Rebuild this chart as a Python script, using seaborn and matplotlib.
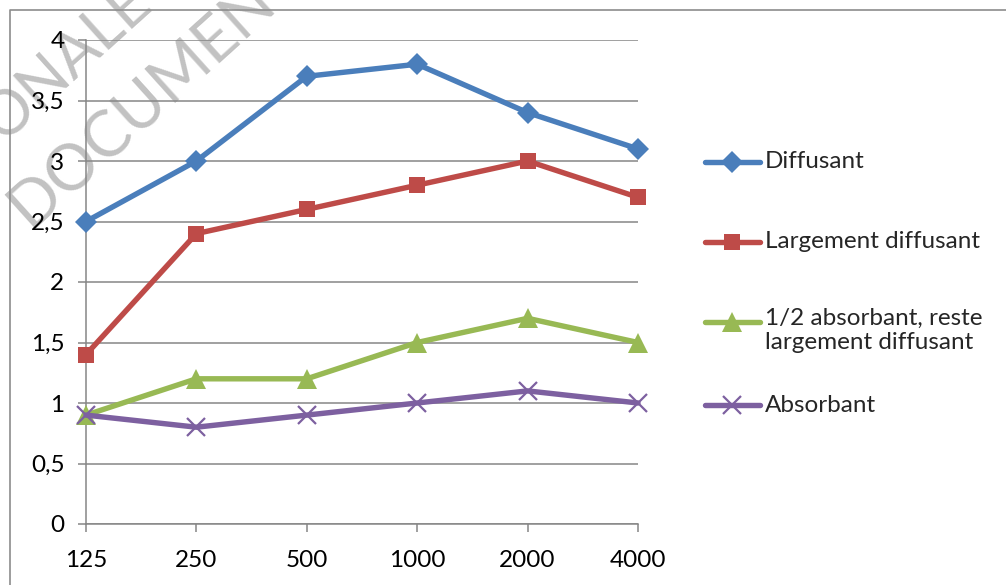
import matplotlib
matplotlib.use("Agg")
import matplotlib.pyplot as plt
from matplotlib.lines import Line2D
import seaborn as sns
import pandas as pd

# ---- data ----
frequencies = ["125", "250", "500", "1000", "2000", "4000"]
diffusant = [2.5, 3.0, 3.7, 3.8, 3.4, 3.1]
largement_diffusant = [1.4, 2.4, 2.6, 2.8, 3.0, 2.7]
demi_absorbant = [0.9, 1.2, 1.2, 1.5, 1.7, 1.5]
absorbant = [0.9, 0.8, 0.9, 1.0, 1.1, 1.0]
series_names = ["Diffusant", "Largement diffusant",
                "1/2 absorbant, reste\nlargement diffusant", "Absorbant"]
y_ticks = [0, 0.5, 1, 1.5, 2, 2.5, 3, 3.5, 4]
y_tick_labels = ["0", "0,5", "1", "1,5", "2", "2,5", "3", "3,5", "4"]

# ---- styles ----
colors = ["#4A7EBB", "#BE4B48", "#98B954", "#7D60A0"]
markers = ["D", "s", "^", "x"]
marker_sizes = [11, 12, 14, 13]
FS = 17.5

sns.set_theme(style="white")
plt.rcParams["font.family"] = ["Lato", "DejaVu Sans"]

values = [diffusant, largement_diffusant, demi_absorbant, absorbant]
rows = []
for name, vals in zip(series_names, values):
    for f, v in zip(frequencies, vals):
        rows.append({"freq": f, "val": v, "serie": name})
df = pd.DataFrame(rows)

fig = plt.figure(figsize=(10.06, 5.85), dpi=100)

# ---- watermark (behind everything) ----
wm_col = "#c2c2c2"
fig.text(67 / 1006, 1 - 62 / 585, "ONALE", rotation=42, rotation_mode="anchor",
         ha="center", va="center", fontsize=44, color=wm_col, zorder=-5)
fig.text(156 / 1006, 1 - 92 / 585, "DOCUMENT", rotation=42, rotation_mode="anchor",
         ha="center", va="center", fontsize=46, color=wm_col, zorder=-5)

ax = fig.add_axes([86 / 1006, 61 / 585, (638 - 86) / 1006, (524 - 40) / 585])

for name, col, mk, ms in zip(series_names, colors, markers, marker_sizes):
    sub = df[df["serie"] == name]
    sns.lineplot(data=sub, x="freq", y="val", ax=ax, color=col, marker=mk,
                 markersize=ms, linewidth=3.9, markeredgewidth=1.6 if mk == "x" else 0,
                 markeredgecolor=col, sort=False, legend=False, clip_on=False,
                 zorder=3)

ax.set_xlim(0, len(frequencies) - 1)
ax.set_ylim(0, 4)
ax.set_yticks(y_ticks)
ax.set_yticklabels(y_tick_labels)
ax.set_xticks(range(len(frequencies)))
ax.set_xticklabels(frequencies)
ax.set_xlabel("")
ax.set_ylabel("")

grid_col = "#868686"
ax.grid(axis="y", color=grid_col, linewidth=1.1, zorder=1)
ax.grid(axis="x", visible=False)
for s in ["top", "right"]:
    ax.spines[s].set_visible(False)
for s in ["left", "bottom"]:
    ax.spines[s].set_color(grid_col)
    ax.spines[s].set_linewidth(1.1)
ax.tick_params(axis="both", which="major", direction="out", length=6,
               width=1.1, color=grid_col, labelsize=FS, labelcolor="black")
ax.tick_params(axis="y", pad=9.5, left=True)
ax.tick_params(axis="x", pad=13, bottom=True)
ax.set_facecolor("none")

# ---- legend (drawn manually, Excel style) ----
leg_y = [162, 242, 322, 405]
for name, col, mk, ms, yy in zip(series_names, colors, markers, marker_sizes, leg_y):
    yf = 1 - yy / 585
    fig.add_artist(Line2D([705 / 1006, 760 / 1006], [yf, yf], color=col,
                          linewidth=3.9, transform=fig.transFigure,
                          solid_capstyle="round"))
    fig.add_artist(Line2D([732 / 1006], [yf], color=col, marker=mk,
                          markersize=ms, markeredgewidth=1.6 if mk == "x" else 0,
                          markeredgecolor=col, transform=fig.transFigure))
    if "\n" in name:
        fig.text(765 / 1006, yf + 14 / 585, name, ha="left", va="top",
                 fontsize=FS, linespacing=1.15)
    else:
        fig.text(765 / 1006, yf, name, ha="left", va="center", fontsize=FS)

# ---- chart border ----
fig.add_artist(Line2D([10 / 1006, 10 / 1006, 1.0], [0, 1 - 10 / 585, 1 - 10 / 585],
                      color="#8c8c8c", linewidth=1.2, transform=fig.transFigure))

fig.savefig("out.png", dpi=100, facecolor="white")
